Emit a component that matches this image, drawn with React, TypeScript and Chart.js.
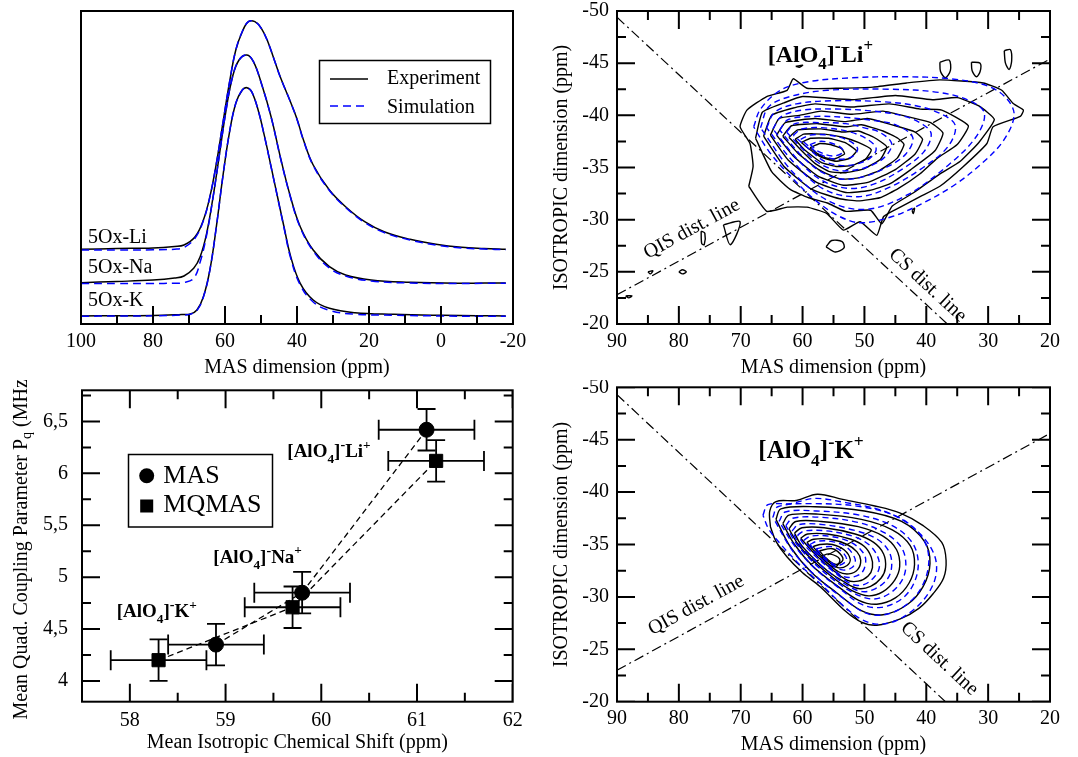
import React, { useEffect, useRef } from "react";
import { Chart, registerables } from "chart.js";

Chart.register(...registerables);

const FONT = "'Liberation Serif', 'Times New Roman', Times, serif";
const BLUE = "#0000ff";

// ---------------- Panel A : 1D MAS spectra ----------------
const A_X_TICKS = [100, 80, 60, 40, 20, 0, -20];
const A_X_MINOR = [90, 70, 50, 30, 10, -10];

const LI_PPM = [100, 90, 80, 74, 71.4, 68.3, 66, 64.2, 62.4, 60.6, 58.8, 57, 55.2, 53.5, 51.7, 49.9, 48.1, 46.3, 44.5, 41.8, 40, 38.2, 35.5, 31, 26.5, 21.2, 15.8, 8.6, 1.4, -5.7, -12, -18];
const LI_EXP = [74.7, 75.5, 76, 77.5, 79, 87.3, 104, 127.3, 160.7, 200.7, 240.7, 274, 292.3, 302.3, 302.3, 295.7, 282.3, 264, 245.7, 222, 205, 184, 159, 134, 117.3, 102.3, 92.3, 84.7, 79.7, 76.7, 75.5, 74.7];
const LI_SIM = [74, 74, 74.2, 74.8, 76.5, 86, 103.5, 127, 160.5, 200.5, 240.5, 274, 292.5, 302.3, 302.3, 295.5, 282, 264, 245.5, 222, 204.5, 183.5, 158.5, 133.5, 116.5, 101.5, 91.5, 84, 79, 76, 75, 74.2];

const NA_PPM = [100, 90, 80, 74, 71.4, 68.7, 66.9, 65.1, 63.3, 61.5, 59.7, 57.9, 56.1, 53.9, 52.1, 49.9, 47.2, 44.5, 41.8, 39.1, 35.5, 31, 26.5, 19.4, 8.6, -4.8, -12, -18];
const NA_EXP = [41.3, 42.5, 44, 46, 48, 55.7, 67.3, 90.7, 127.3, 170.7, 214, 247.3, 264, 269, 262.3, 240.7, 207.3, 165, 127, 97.3, 74, 57.3, 49, 44, 41.7, 40.7, 41, 41];
const NA_SIM = [40.5, 40.5, 40.6, 40.8, 41.5, 45.7, 62, 89, 127, 170.5, 214, 247.3, 264, 269, 262.3, 240.5, 207, 164.5, 126.5, 96.5, 73, 56, 48, 43, 41, 40.5, 40.7, 40.7];

const K_PPM = [100, 90, 80, 72, 69.6, 67.8, 66, 64.2, 62.4, 60.6, 58.8, 57, 55.2, 53.9, 52.6, 50.8, 49, 47.2, 45.4, 43.6, 41.8, 39.1, 35.5, 31, 23.9, 13.1, -0.4, -10, -18];
const K_EXP = [8, 8.3, 8.5, 9.5, 10, 14, 27.3, 54, 97.3, 147.3, 190.7, 220.7, 234, 236.3, 232.3, 214, 187.3, 157.3, 127, 97, 68, 40.7, 24, 15.7, 11.3, 9.7, 8.7, 8.3, 8];
const K_SIM = [7.8, 8, 8.2, 9, 9.8, 13.5, 27, 54, 97.3, 147.3, 190.7, 220.7, 234, 236.3, 232.3, 214, 187, 157, 126.5, 96, 66.5, 39, 22, 13.7, 9.8, 8.8, 8, 7.8, 7.8];

const A_SERIES_LABELS = ["5Ox-Li", "5Ox-Na", "5Ox-K"];
const A_LEGEND = ["Experiment", "Simulation"];

// ---------------- Panels B & D : 2D MQMAS contours ----------------
const NMR_X_TICKS = [90, 80, 70, 60, 50, 40, 30, 20];
const NMR_X_MINOR = [85, 75, 65, 55, 45, 35, 25];
const NMR_Y_TICKS = [-50, -45, -40, -35, -30, -25, -20];
const NMR_Y_MINOR = [-47.5, -42.5, -37.5, -32.5, -27.5, -22.5];

const LI_CS_LINE = [[90, -49.4], [36.6, -20]];
const LI_QIS_LINE = [[90, -22.8], [20, -45.4]];
const K_CS_LINE = [[90, -49.3], [36.9, -20]];
const K_QIS_LINE = [[90, -23.0], [20, -45.6]];

const LI_EXP_CONTOURS = [
  [[68.7, -33.2], [65.8, -30.8], [62.5, -31.2], [59.3, -31.2], [56.1, -30.6], [53.4, -29.0], [50.7, -29.8], [48.0, -28.5], [46.9, -30.3], [44.2, -31.2], [41.0, -32.2], [37.8, -33.2], [34.0, -35.1], [30.2, -37.3], [29.2, -38.9], [24.8, -39.9], [24.3, -40.5], [25.9, -41.1], [27.8, -42.4], [30.8, -43.1], [37.8, -43.4], [43.2, -43.1], [48.6, -42.7], [53.9, -42.6], [59.3, -42.6], [61.5, -43.5], [62.5, -42.4], [65.8, -41.8], [69.0, -40.5], [70.1, -38.9], [68.5, -37.3], [68.0, -35.1]],
  [[67.6, -37.8], [66.5, -40.3], [63, -41.2], [60, -41.8], [52, -41.5], [45, -41.9], [39, -41.5], [35, -41.7], [31.5, -40.9], [29, -39.6], [31.5, -37.4], [34.5, -35.6], [38, -34.3], [42, -32.6], [45.5, -31.3], [47.2, -29.6], [49, -30.9], [53, -30.8], [56, -31.6], [59, -32.1], [62, -32.9], [65, -34.6]],
  [[66.3, -38.0], [65, -40], [61.5, -40.7], [58, -41.1], [52, -40.8], [46, -41.1], [41, -40.6], [37.5, -40.5], [33.2, -39], [35, -37.2], [38.2, -35.9], [41, -34.4], [44.5, -33], [47.5, -32.1], [51, -31.8], [54, -32], [58.5, -32.9], [63, -35.1]],
  [[65.2, -38.1], [63.8, -39.7], [60.5, -40], [57, -40.4], [52, -40.1], [47, -40.4], [42.5, -39.8], [39.3, -39.3], [37.3, -38.3], [38.6, -36.6], [42.5, -34.8], [46, -33.4], [49.2, -32.8], [53, -32.6], [57.8, -33.6], [62.3, -35.7]],
  [[64.2, -38.1], [62.8, -39.3], [58, -39.7], [53, -39.4], [49.5, -39.7], [45, -39], [41.8, -38.4], [40.6, -37.7], [41.8, -36.3], [45, -34.8], [49.3, -33.6], [53.4, -33.3], [57.6, -34.2], [61.5, -36.1]],
  [[63.2, -38], [61.8, -39], [57.5, -39.2], [53, -38.9], [50.5, -39.1], [47, -38.5], [44.6, -37.8], [43.6, -37.2], [44.7, -35.9], [47.6, -34.7], [51, -34], [54, -33.9], [57.4, -34.8], [60.8, -36.4]],
  [[62.2, -37.9], [60.8, -38.6], [57, -38.7], [53.5, -38.4], [51, -38.5], [48.5, -37.9], [46.4, -37], [47.4, -35.8], [50, -34.9], [53, -34.5], [55.6, -34.6], [58, -35.4], [60.3, -36.7]],
  [[61.2, -37.7], [59.8, -38.2], [56.5, -38.2], [53.5, -37.9], [51, -37.4], [48.9, -36.7], [49.8, -35.8], [52, -35.2], [54.6, -35.1], [57, -35.5], [59.7, -36.7]],
  [[60.2, -37.4], [58.7, -37.8], [55.8, -37.8], [53.2, -37.4], [51.3, -36.6], [52.3, -35.9], [54.6, -35.6], [57, -36], [59, -36.8]],
  [[58.8, -36.9], [57.2, -37.3], [55.5, -37.2], [53.7, -36.8], [53.2, -36.3], [55, -35.8], [56.7, -36], [57.5, -36.3]],
];
const LI_SIM_CONTOURS = [
  [[67.9, -38.9], [66.8, -40.6], [63.6, -42.4], [59.3, -43.2], [52, -43.6], [44, -43.7], [36, -43.5], [30, -42.8], [27, -41.6], [25.8, -40], [27.5, -37.6], [31, -35.4], [35.5, -33.3], [40.5, -31.6], [45.5, -30.3], [50.5, -29.7], [54, -30.3], [58, -31.9], [62, -34.2], [65.5, -36.6]],
  [[66.8, -38.8], [65.5, -40.8], [62, -41.8], [56, -42.4], [46, -42.5], [38, -42.2], [33, -41.4], [30.6, -40.2], [32, -37.9], [36.5, -35.2], [43, -32.4], [49.5, -31], [55.5, -31.7], [61.5, -34.5]],
  [[65.8, -38.8], [64.5, -40.3], [61, -41.1], [55, -41.4], [47, -41.3], [41.5, -40.9], [37.5, -40.1], [35.3, -39], [36.5, -37], [40.5, -35], [46, -33.1], [51, -32.2], [56.5, -32.9], [61.3, -35.4]],
  [[64.8, -38.7], [63.4, -39.9], [60, -40.5], [54.5, -40.6], [48.5, -40.4], [43.5, -39.9], [40.5, -39.1], [39.2, -38.2], [40.4, -36.5], [44, -34.8], [48.5, -33.4], [52.5, -33], [57, -33.8], [61, -35.9]],
  [[63.7, -38.6], [62.3, -39.6], [57.6, -39.9], [53, -39.8], [48.5, -39.5], [45, -39.1], [42.2, -37.9], [43.3, -36.3], [46.5, -35], [50.3, -34.1], [53.8, -33.9], [57.3, -34.7], [60.6, -36.4]],
  [[62.6, -38.4], [61.2, -39.2], [57, -39.3], [53, -39.2], [50, -38.8], [47.6, -38.4], [45.6, -37.3], [46.7, -36], [49.3, -35.1], [52.3, -34.7], [55, -34.8], [57.8, -35.6], [60.2, -36.9]],
  [[61.5, -38.1], [60.1, -38.7], [56.5, -38.8], [52.3, -38.4], [49.5, -37.7], [48.1, -36.8], [49.1, -35.9], [51.5, -35.3], [54, -35.2], [56.5, -35.6], [59, -36.8]],
  [[60.3, -37.7], [58.8, -38.1], [55.7, -38.1], [52.6, -37.6], [51.1, -36.8], [52.1, -36], [54.5, -35.8], [57, -36.2], [58.9, -37]],
  [[58.8, -37.2], [57.3, -37.5], [55.7, -37.4], [54, -37], [53.4, -36.5], [55, -36.1], [57.3, -36.5]],
];
const LI_ISLANDS = [
  [[37.8, -45.1], [36.3, -45.3], [36.1, -44.3], [36.9, -43.6], [37.7, -44.2]],
  [[32.7, -45.1], [31.3, -45.0], [31.3, -44.2], [31.9, -43.7], [32.6, -44.3]],
  [[27.4, -46.2], [26.4, -46.3], [26.2, -45.2], [26.6, -44.4], [27.2, -45.0]],
  [[56.2, -27.4], [55.3, -28.0], [53.6, -27.9], [53.3, -27.3], [54.7, -26.9]],
  [[72.8, -29.5], [70.1, -29.8], [71.7, -27.6]],
  [[76.4, -28.9], [75.8, -28.7], [75.9, -27.6], [76.3, -27.7]],
  [[80.0, -25.0], [79.4, -25.2], [78.8, -25.0], [79.4, -24.8]],
  [[85.0, -25.0], [84.2, -25.1], [84.6, -24.8]],
  [[88.6, -22.7], [87.6, -22.7], [88.1, -22.5]],
  [[42.3, -30.9], [41.9, -31.1], [42.1, -30.6]],
  [[61.1, -44.7], [60.0, -44.8], [60.5, -44.6]],
];

const K_EXP_CONTOURS = [
  [[65.2, -36.7], [65.3, -38.2], [64.3, -39.1], [61, -39.2], [57.6, -39.8], [53.5, -39.3], [48.5, -38.7], [44.2, -38.0], [40.5, -36.8], [37.5, -35.2], [36.8, -33.5], [37.2, -31.8], [38.9, -30.3], [41.2, -28.9], [44.2, -27.9], [48, -27.3], [50.5, -27.6], [53, -28.6], [57.2, -31.0], [60, -32.3], [62.5, -33.8], [64.3, -35.3]],
  [[64.3, -37.4], [63.5, -38.4], [58, -38.6], [50, -38.2], [44, -37.2], [40.3, -35.3], [39.4, -33.2], [40.5, -31], [43, -29.3], [47, -28.3], [50.5, -28.7], [54.5, -30.4], [58.5, -32.3], [62, -34.8]],
  [[63.2, -37], [62.2, -37.8], [57.5, -37.9], [50.5, -37.4], [45.5, -36.4], [42.6, -34.9], [41.9, -33.1], [42.8, -31.3], [45, -29.9], [48, -29.3], [51, -29.7], [54.5, -31.1], [58.3, -32.9], [61.3, -35]],
  [[62.2, -36.5], [61.1, -37.2], [57, -37.2], [51, -36.7], [47, -35.8], [44.8, -34.5], [44.3, -32.9], [45.1, -31.6], [47, -30.5], [49.3, -30.1], [52, -30.6], [55, -31.8], [58.2, -33.4], [60.7, -35]],
  [[61.3, -36.1], [60.1, -36.6], [56.5, -36.6], [51.5, -36], [48.5, -35.2], [46.9, -34.1], [46.6, -32.8], [47.3, -31.8], [49, -31], [51, -30.8], [53.2, -31.4], [56, -32.5], [58.6, -33.9], [60.4, -35.1]],
  [[60.3, -35.6], [59.2, -36.0], [56, -36], [52.2, -35.5], [50, -34.8], [48.9, -33.8], [48.7, -32.8], [49.4, -32], [51, -31.5], [52.8, -31.6], [55.8, -32.9], [58.2, -34.2]],
  [[59.3, -35.2], [58.2, -35.5], [55.6, -35.5], [52.8, -35], [51.2, -34.3], [50.6, -33.5], [51.1, -32.6], [52.5, -32.2], [54.2, -32.4], [56.5, -33.5], [58.3, -34.5]],
  [[58.3, -34.8], [57.2, -35], [55.2, -35], [53.3, -34.5], [52.3, -33.6], [52.8, -33], [54.3, -32.8], [56.3, -33.6], [57.6, -34.3]],
  [[57.3, -34.4], [55.2, -34.6], [53.9, -34.1], [53.5, -33.5], [54.6, -33.1], [56.2, -33.7]],
  [[56.9, -33.9], [55.7, -34.1], [54, -33.6], [54.6, -32.9], [56, -33.2]],
];
const K_SIM_CONTOURS = [
  [[66.4, -37.8], [65.6, -38.8], [62, -38.9], [58, -39.4], [53, -39], [48, -38.4], [44, -37.4], [40.8, -35.9], [38.7, -34], [38.4, -32.2], [39.6, -30.4], [42, -28.8], [45, -27.7], [48, -27.4], [50.6, -27.9], [53.3, -29.1], [57, -31.2], [60.5, -33.1], [63.5, -35], [65.5, -36.5]],
  [[64.8, -37.6], [64, -38.6], [58.5, -38.9], [50.5, -38.6], [44.5, -37.6], [40.8, -35.8], [39.6, -33.8], [40.3, -31.5], [42.5, -29.6], [46, -28.4], [49.5, -28.4], [53.5, -29.9], [57.5, -31.8], [61.5, -34.3]],
  [[63.8, -37.2], [62.8, -38.1], [57.8, -38.2], [50.8, -37.8], [45.5, -36.8], [42.3, -35.2], [41.3, -33.3], [42, -31.3], [44, -29.8], [47.3, -29], [50.5, -29.3], [54, -30.8], [57.8, -32.6], [61.2, -34.8]],
  [[62.7, -36.8], [61.6, -37.5], [57.2, -37.6], [51, -37.1], [46.7, -36.1], [44, -34.7], [43.3, -33], [44, -31.5], [46, -30.3], [48.6, -29.8], [51.5, -30.3], [54.7, -31.5], [58.1, -33.2], [60.9, -35]],
  [[61.7, -36.3], [60.6, -36.9], [56.7, -36.9], [51.3, -36.3], [47.9, -35.5], [46, -34.3], [45.6, -32.9], [46.3, -31.7], [48.2, -30.8], [50.3, -30.5], [52.8, -31.1], [55.6, -32.3], [58.4, -33.7], [60.6, -35.1]],
  [[60.8, -35.9], [59.7, -36.3], [56.2, -36.3], [51.9, -35.8], [49.3, -35], [47.9, -33.9], [47.6, -32.8], [48.4, -31.9], [50, -31.2], [52, -31.2], [55.6, -32.7], [58.3, -34.1], [59.9, -35.1]],
  [[59.8, -35.4], [58.7, -35.8], [55.8, -35.8], [52.5, -35.3], [50.6, -34.5], [49.8, -33.6], [50.3, -32.4], [51.8, -31.9], [53.6, -32], [56.2, -33.2], [58.3, -34.4]],
  [[58.8, -35], [57.7, -35.3], [55.4, -35.3], [53, -34.8], [51.5, -33.6], [52, -32.8], [53.8, -32.6], [56.4, -33.6], [57.9, -34.4]],
  [[57.8, -34.6], [55.4, -34.8], [53.6, -34.3], [52.9, -33.5], [54.4, -33], [56.3, -33.7]],
];

// ---------------- Panel C : Pq vs isotropic shift ----------------
const C_X_TICKS = [58, 59, 60, 61, 62];
const C_X_MINOR = [58.5, 59.5, 60.5, 61.5];
const C_Y_TICKS = [4, 4.5, 5, 5.5, 6, 6.5];
const C_Y_LABELS = ["4", "4,5", "5", "5,5", "6", "6,5"];
const C_Y_MINOR = [4.25, 4.75, 5.25, 5.75, 6.25, 6.75];

const MAS_X = [58.9, 59.8, 61.1];
const MAS_Y = [4.35, 4.85, 6.42];
const MAS_XERR = [0.5, 0.5, 0.5];
const MAS_YERR = [0.2, 0.2, 0.2];
const MQMAS_X = [58.3, 59.7, 61.2];
const MQMAS_Y = [4.2, 4.71, 6.12];
const MQMAS_XERR = [0.5, 0.5, 0.5];
const MQMAS_YERR = [0.2, 0.2, 0.2];

// ---------------- helpers ----------------
type Pt = number[];
type AxisGeom = { min: number; max: number; reverse: boolean; span: number };

function font(size: number, weight = "normal") {
  return { family: FONT, size, weight, lineHeight: 1.2 } as any;
}

function zip(xs: number[], ys: number[]) {
  return xs.map((x, i) => ({ x, y: ys[i] }));
}

function contourSets(polys: Pt[][], color: string, dash: number[], width: number, tension: number, order: number) {
  return polys.map((p) => ({
    data: [...p, p[0]].map(([x, y]) => ({ x, y })),
    showLine: true,
    borderColor: color,
    borderWidth: width,
    borderDash: dash,
    pointRadius: 0,
    tension,
    fill: false,
    order,
  }));
}

function lineSet(pts: Pt[], dash: number[]) {
  return {
    data: pts.map(([x, y]) => ({ x, y })),
    showLine: true,
    borderColor: "#000",
    borderWidth: 1.2,
    borderDash: dash,
    pointRadius: 0,
    tension: 0,
    fill: false,
    order: 2,
  };
}

// Inward tick marks as short line segments through the chart's scales.
// Tick length (px) is converted to axis units with the known plot-area size.
function tickDataset(xg: AxisGeom, yg: AxisGeom, xMajor: number[], xMinor: number[], yMajor: number[], yMinor: number[], mirror: boolean) {
  const pts: any[] = [];
  const xLeft = xg.reverse ? xg.max : xg.min;
  const xRight = xg.reverse ? xg.min : xg.max;
  const yBottom = yg.reverse ? yg.max : yg.min;
  const yTop = yg.reverse ? yg.min : yg.max;
  const ux = (xRight - xLeft) / xg.span; // units per px, left -> right
  const uy = (yTop - yBottom) / yg.span; // units per px, bottom -> top
  const vTick = (t: number, len: number) => {
    pts.push({ x: t, y: yBottom }, { x: t, y: yBottom + uy * len }, { x: t, y: null });
    if (mirror) pts.push({ x: t, y: yTop }, { x: t, y: yTop - uy * len }, { x: t, y: null });
  };
  const hTick = (t: number, len: number) => {
    pts.push({ x: xLeft, y: t }, { x: xLeft + ux * len, y: t }, { x: null, y: t });
    pts.push({ x: xRight, y: t }, { x: xRight - ux * len, y: t }, { x: null, y: t });
  };
  xMajor.forEach((t) => vTick(t, 18));
  xMinor.forEach((t) => vTick(t, 9));
  yMajor.forEach((t) => hTick(t, 18));
  yMinor.forEach((t) => hTick(t, 9));
  return {
    data: pts,
    showLine: true,
    spanGaps: false,
    borderColor: "#000",
    borderWidth: 2,
    pointRadius: 0,
    tension: 0,
    fill: false,
    order: -1,
  };
}

function framePlugin(before: any, extra: any) {
  return {
    id: "frameDecor",
    beforeDatasetsDraw(c: any) {
      if (before) {
        const ctx = c.ctx;
        ctx.save();
        before(ctx, c);
        ctx.restore();
      }
    },
    afterDraw(c: any) {
      const ctx = c.ctx;
      const a = c.chartArea;
      ctx.save();
      ctx.strokeStyle = "#000";
      ctx.lineWidth = 2;
      ctx.strokeRect(a.left, a.top, a.right - a.left, a.bottom - a.top);
      ctx.restore();
      if (extra) {
        ctx.save();
        extra(ctx, c);
        ctx.restore();
      }
    },
  };
}

function drawIon(ctx: CanvasRenderingContext2D, x: number, y: number, size: number, cation: string) {
  let cx = x;
  ctx.fillStyle = "#000";
  ctx.textBaseline = "alphabetic";
  ctx.textAlign = "left";
  const part = (t: string, s: number, dy: number) => {
    ctx.font = `bold ${s}px ${FONT}`;
    ctx.fillText(t, cx, y + dy);
    cx += ctx.measureText(t).width;
  };
  part("[AlO", size, 0);
  part("4", size * 0.7, size * 0.3);
  part("]", size, 0);
  part("-", size * 0.75, -size * 0.42);
  part(cation, size, 0);
  part("+", size * 0.7, -size * 0.45);
}

function drawRotText(ctx: CanvasRenderingContext2D, text: string, x: number, y: number, angle: number, size: number) {
  ctx.save();
  ctx.translate(x, y);
  ctx.rotate(angle);
  ctx.font = `${size}px ${FONT}`;
  ctx.fillStyle = "#000";
  ctx.textAlign = "center";
  ctx.textBaseline = "middle";
  ctx.fillText(text, 0, 0);
  ctx.restore();
}

function fixedTicks(values: number[]) {
  return (s: any) => {
    s.ticks = values.map((v) => ({ value: v }));
  };
}

function xAxis(min: number, max: number, reverse: boolean, ticks: number[], labels: string[], height: number, pad: number, title: string, titlePad: number) {
  return {
    type: "linear",
    min,
    max,
    reverse,
    grid: { display: false, drawTicks: false },
    border: { display: false },
    afterBuildTicks: fixedTicks(ticks),
    afterFit: (s: any) => {
      s.height = height;
      s.paddingLeft = 0;
      s.paddingRight = 0;
    },
    ticks: {
      padding: pad,
      font: font(20),
      color: "#000",
      maxRotation: 0,
      autoSkip: false,
      callback: (_v: any, i: number) => labels[i],
    },
    title: { display: !!title, text: title, font: font(20), color: "#000", padding: { top: 0, bottom: titlePad } },
  };
}

function yAxis(min: number, max: number, reverse: boolean, ticks: number[], labels: string[], width: number, pad: number, title: string, titlePad: number) {
  return {
    type: "linear",
    min,
    max,
    reverse,
    grid: { display: false, drawTicks: false },
    border: { display: false },
    afterBuildTicks: fixedTicks(ticks),
    afterFit: (s: any) => {
      s.width = width;
      s.paddingTop = 0;
      s.paddingBottom = 0;
    },
    ticks: {
      padding: pad,
      font: font(20),
      color: "#000",
      autoSkip: false,
      callback: (_v: any, i: number) => labels[i],
    },
    title: { display: !!title, text: title, font: font(20), color: "#000", padding: { top: titlePad, bottom: 0 } },
  };
}

const baseOptions = (padding: any, scales: any) => ({
  responsive: false,
  animation: false,
  devicePixelRatio: 1,
  layout: { padding },
  plugins: { legend: { display: false } },
  events: [],
  scales,
});

// ---------------- chart configs ----------------
function configA() {
  const exp = (xs: number[], ys: number[]) => ({
    data: zip(xs, ys), showLine: true, borderColor: "#000", borderWidth: 1.5, pointRadius: 0, tension: 0.4, fill: false, order: 1,
  });
  const sim = (xs: number[], ys: number[]) => ({
    data: zip(xs, ys), showLine: true, borderColor: BLUE, borderWidth: 1.5, borderDash: [8, 5], pointRadius: 0, tension: 0.4, fill: false, order: 0,
  });
  const extra = (ctx: CanvasRenderingContext2D) => {
    ctx.fillStyle = "#000";
    ctx.font = `20px ${FONT}`;
    ctx.textAlign = "left";
    ctx.textBaseline = "alphabetic";
    ctx.fillText(A_SERIES_LABELS[0], 88, 243);
    ctx.fillText(A_SERIES_LABELS[1], 88, 273);
    ctx.fillText(A_SERIES_LABELS[2], 88, 306);
    ctx.lineWidth = 1.5;
    ctx.strokeStyle = "#000";
    ctx.strokeRect(319.5, 60.5, 171, 63);
    ctx.beginPath();
    ctx.moveTo(330, 79);
    ctx.lineTo(368, 79);
    ctx.stroke();
    ctx.strokeStyle = BLUE;
    ctx.setLineDash([8, 5]);
    ctx.beginPath();
    ctx.moveTo(330, 106);
    ctx.lineTo(368, 106);
    ctx.stroke();
    ctx.setLineDash([]);
    ctx.fillText(A_LEGEND[0], 387, 84);
    ctx.fillText(A_LEGEND[1], 387, 113);
  };
  return {
    type: "scatter",
    data: {
      datasets: [
        tickDataset({ min: -20, max: 100, reverse: true, span: 432 }, { min: 0, max: 313, reverse: false, span: 313 }, A_X_TICKS, A_X_MINOR, [], [], false),
        exp(LI_PPM, LI_EXP), sim(LI_PPM, LI_SIM),
        exp(NA_PPM, NA_EXP), sim(NA_PPM, NA_SIM),
        exp(K_PPM, K_EXP), sim(K_PPM, K_SIM),
      ],
    },
    options: baseOptions(
      { left: 81, top: 11, right: 27, bottom: 0 },
      {
        x: xAxis(-20, 100, true, A_X_TICKS, A_X_TICKS.map(String), 56, 6, "MAS dimension (ppm)", 0),
        y: { type: "linear", display: false, min: 0, max: 313 },
      }
    ),
    plugins: [framePlugin(null, extra)],
  };
}

function configNMR(
  expC: Pt[][], simC: Pt[][], islands: Pt[][], cs: Pt[], qis: Pt[],
  padTop: number, xHeight: number, xPad: number, xTitlePad: number, ySpan: number,
  ion: string, ionX: number, ionY: number, ionSize: number,
  qisLabel: Pt, csLabel: Pt, expTension: number
) {
  const DASHDOT = [10, 4, 2, 4];
  const extra = (ctx: CanvasRenderingContext2D, chart: any) => {
    const xs = chart.scales.x;
    const ys = chart.scales.y;
    const ang = (l: Pt[]) =>
      Math.atan2(ys.getPixelForValue(l[1][1]) - ys.getPixelForValue(l[0][1]), xs.getPixelForValue(l[1][0]) - xs.getPixelForValue(l[0][0]));
    drawRotText(ctx, "QIS dist. line", xs.getPixelForValue(qisLabel[0]), ys.getPixelForValue(qisLabel[1]), ang(qis), 20);
    drawRotText(ctx, "CS dist. line", xs.getPixelForValue(csLabel[0]), ys.getPixelForValue(csLabel[1]), ang(cs), 20);
    drawIon(ctx, ionX, ionY, ionSize, ion);
  };
  return {
    type: "scatter",
    data: {
      datasets: [
        tickDataset({ min: 20, max: 90, reverse: true, span: 433 }, { min: -50, max: -20, reverse: true, span: ySpan }, NMR_X_TICKS, NMR_X_MINOR, NMR_Y_TICKS, NMR_Y_MINOR, true),
        lineSet(cs, DASHDOT),
        lineSet(qis, DASHDOT),
        ...contourSets(expC, "#000", [], 1.4, expTension, 1),
        ...contourSets(islands, "#000", [], 1.4, 0.3, 1),
        ...contourSets(simC, BLUE, [6, 4], 1.4, 0.35, 0),
      ],
    },
    options: baseOptions(
      { left: 0, top: padTop, right: 28, bottom: 0 },
      {
        x: xAxis(20, 90, true, NMR_X_TICKS, NMR_X_TICKS.map(String), xHeight, xPad, "MAS dimension (ppm)", xTitlePad),
        y: yAxis(-50, -20, true, NMR_Y_TICKS, NMR_Y_TICKS.map(String), 77, 8, "ISOTROPIC dimension (ppm)", 10),
      }
    ),
    plugins: [framePlugin(null, extra)],
  };
}

function configC() {
  const series = (xs: number[], ys: number[], style: string, radius: number) => ({
    data: zip(xs, ys),
    showLine: true,
    borderColor: "#000",
    borderWidth: 1.3,
    borderDash: [6, 4],
    tension: 0,
    fill: false,
    pointStyle: style,
    pointRadius: radius,
    pointBackgroundColor: "#000",
    pointBorderColor: "#000",
    pointBorderWidth: 1,
  });
  const before = (ctx: CanvasRenderingContext2D, chart: any) => {
    const xs = chart.scales.x;
    const ys = chart.scales.y;
    ctx.strokeStyle = "#000";
    ctx.lineWidth = 1.8;
    ctx.setLineDash([]);
    const bars = (X: number[], Y: number[], XE: number[], YE: number[]) => {
      X.forEach((x, i) => {
        const px = xs.getPixelForValue(x);
        const py = ys.getPixelForValue(Y[i]);
        const x0 = xs.getPixelForValue(x - XE[i]);
        const x1 = xs.getPixelForValue(x + XE[i]);
        const y0 = ys.getPixelForValue(Y[i] - YE[i]);
        const y1 = ys.getPixelForValue(Y[i] + YE[i]);
        ctx.beginPath();
        ctx.moveTo(x0, py); ctx.lineTo(x1, py);
        ctx.moveTo(x0, py - 10); ctx.lineTo(x0, py + 10);
        ctx.moveTo(x1, py - 10); ctx.lineTo(x1, py + 10);
        ctx.moveTo(px, y0); ctx.lineTo(px, y1);
        ctx.moveTo(px - 9, y0); ctx.lineTo(px + 9, y0);
        ctx.moveTo(px - 9, y1); ctx.lineTo(px + 9, y1);
        ctx.stroke();
      });
    };
    bars(MAS_X, MAS_Y, MAS_XERR, MAS_YERR);
    bars(MQMAS_X, MQMAS_Y, MQMAS_XERR, MQMAS_YERR);
  };
  const extra = (ctx: CanvasRenderingContext2D, chart: any) => {
    const a = chart.chartArea;
    ctx.save();
    ctx.translate(21.7, (a.top + a.bottom) / 2);
    ctx.rotate(-Math.PI / 2);
    ctx.fillStyle = "#000";
    ctx.textBaseline = "middle";
    ctx.textAlign = "left";
    const p1 = "Mean Quad. Coupling Parameter P";
    const p2 = "q";
    const p3 = " (MHz)";
    ctx.font = `20px ${FONT}`;
    const w1 = ctx.measureText(p1).width;
    const w3 = ctx.measureText(p3).width;
    ctx.font = `14px ${FONT}`;
    const w2 = ctx.measureText(p2).width;
    let cx = -(w1 + w2 + w3) / 2;
    ctx.font = `20px ${FONT}`;
    ctx.fillText(p1, cx, 0);
    cx += w1;
    ctx.font = `14px ${FONT}`;
    ctx.fillText(p2, cx, 6);
    cx += w2;
    ctx.font = `20px ${FONT}`;
    ctx.fillText(p3, cx, 0);
    ctx.restore();
    drawIon(ctx, 287.3, 77.3, 19, "Li");
    drawIon(ctx, 213.3, 183, 19, "Na");
    drawIon(ctx, 116.7, 237.3, 19, "K");
    ctx.strokeStyle = "#000";
    ctx.lineWidth = 1.5;
    ctx.setLineDash([]);
    ctx.strokeRect(128.5, 74.5, 144, 72.5);
    ctx.fillStyle = "#000";
    ctx.beginPath();
    ctx.arc(146.7, 95.7, 7.5, 0, Math.PI * 2);
    ctx.fill();
    ctx.fillRect(140.2, 119.5, 13, 13);
    ctx.textAlign = "left";
    ctx.textBaseline = "alphabetic";
    ctx.font = `26px ${FONT}`;
    ctx.fillText("MAS", 163.3, 103.3);
    ctx.fillText("MQMAS", 163.3, 131.7);
  };
  return {
    type: "scatter",
    data: {
      datasets: [
        tickDataset({ min: 57.5, max: 62, reverse: false, span: 430.7 }, { min: 3.8, max: 6.8, reverse: false, span: 313.4 }, C_X_TICKS, C_X_MINOR, C_Y_TICKS, C_Y_MINOR, true),
        series(MAS_X, MAS_Y, "circle", 7.5),
        series(MQMAS_X, MQMAS_Y, "rect", 9.3),
      ],
    },
    options: baseOptions(
      { left: 0, top: 8.3, right: 27.3, bottom: 0 },
      {
        x: xAxis(57.5, 62, false, C_X_TICKS, C_X_TICKS.map(String), 55.3, 7, "Mean Isotropic Chemical Shift (ppm)", 2),
        y: yAxis(3.8, 6.8, false, C_Y_TICKS, C_Y_LABELS, 82, 14, "", 0),
      }
    ),
    plugins: [framePlugin(before, extra)],
  };
}

function ChartCanvas({ left, top, width, height, make }: { left: number; top: number; width: number; height: number; make: () => any }) {
  const ref = useRef<HTMLCanvasElement | null>(null);
  useEffect(() => {
    if (!ref.current) return;
    const chart = new Chart(ref.current, make());
    return () => chart.destroy();
  }, []);
  return (
    <canvas
      ref={ref}
      width={width}
      height={height}
      style={{ position: "absolute", left, top, width, height }}
    />
  );
}

export default function App() {
  return (
    <div style={{ position: "absolute", left: 0, top: 0, width: 1078, height: 757, background: "#fff", overflow: "hidden" }}>
      <ChartCanvas left={0} top={0} width={540} height={380} make={configA} />
      <ChartCanvas
        left={540} top={0} width={538} height={380}
        make={() =>
          configNMR(LI_EXP_CONTOURS, LI_SIM_CONTOURS, LI_ISLANDS, LI_CS_LINE, LI_QIS_LINE,
            11, 56, 6, 0, 313, "Li", 227.7, 61.7, 24, [77.9, -29.1], [39.8, -23.7], 0.15)
        }
      />
      <ChartCanvas left={0} top={380} width={540} height={377} make={configC} />
      <ChartCanvas
        left={540} top={380} width={538} height={377}
        make={() =>
          configNMR(K_EXP_CONTOURS, K_SIM_CONTOURS, [], K_CS_LINE, K_QIS_LINE,
            7.3, 55.3, 5, 0, 314.4, "K", 218.3, 78.3, 25, [77.2, -29.2], [37.9, -24.1], 0.35)
        }
      />
    </div>
  );
}
